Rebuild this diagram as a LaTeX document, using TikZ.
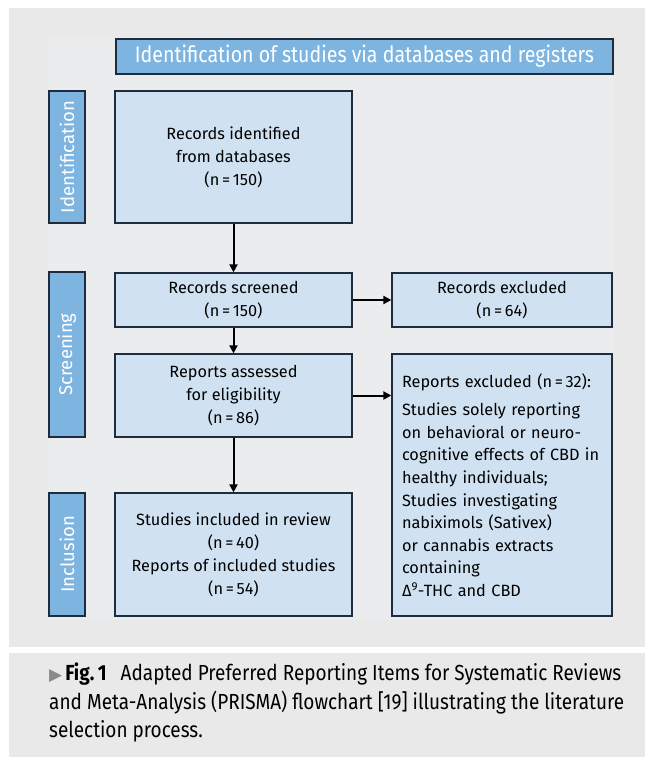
\documentclass[tikz,border=0pt]{standalone}
\usepackage{fontspec}
\setmainfont{Fira Sans}
\newfontfamily\cond[FakeStretch=0.87]{Fira Sans}
\newfontfamily\symf{DejaVu Sans}
\usetikzlibrary{arrows.meta}
\definecolor{bggray}{HTML}{E9E9E9}
\definecolor{innergray}{HTML}{EBECEE}
\definecolor{darkline}{HTML}{1E2C3E}
\definecolor{midblue}{HTML}{7EB5E0}
\definecolor{lightblue}{HTML}{D0E2F2}
\definecolor{trigray}{HTML}{8A8A8A}
\tikzset{
  boxnode/.style={draw=darkline, line width=1.3pt, fill=lightblue, align=center, inner sep=0pt,
    font=\fontsize{16.3}{23}\selectfont, text=black},
  hdrnode/.style={draw=darkline, line width=1.3pt, fill=midblue, text=white, inner sep=0pt},
  sidenode/.style={hdrnode, rotate=90, font=\fontsize{18.5}{20}\selectfont},
  arr/.style={line width=2pt, -{Triangle[length=8pt,width=8pt]}}
}
\begin{document}
\begin{tikzpicture}[x=1pt,y=-1pt]
\useasboundingbox (0,0) rectangle (645,757);
\fill[white] (0,0) rectangle (645,757);
\fill[bggray] (9,8) rectangle (645,647);
\fill[innergray] (48,37) rectangle (613,620);
\fill[bggray] (9,653) rectangle (645,757);

\node[hdrnode, minimum width=497pt, minimum height=35pt, font=\cond\fontsize{22.5}{24}\selectfont]
  (title) at (364.5,56.5) {Identification of studies via databases and registers};

\node[sidenode, minimum width=132pt, minimum height=36pt] (lab1) at (67,157) {Identification};
\node[sidenode, minimum width=165pt, minimum height=36pt] (lab2) at (67,354.5) {Screening};
\node[sidenode, minimum width=123pt, minimum height=36pt] (lab3) at (67,554.5) {Inclusion};

\node[boxnode, minimum width=237pt, minimum height=132pt] (ident) at (233.5,157)
  {Records identified\\from databases\\(n\,=\,150)};
\node[boxnode, minimum width=237pt, minimum height=54pt] (screened) at (233.5,300)
  {Records screened\\(n\,=\,150)};
\node[boxnode, minimum width=220pt, minimum height=54pt] (excl1) at (502,300)
  {Records excluded\\(n\,=\,64)};
\node[boxnode, minimum width=237pt, minimum height=83pt] (assessed) at (233.5,395.5)
  {Reports assessed\\for eligibility\\(n\,=\,86)};
\node[boxnode, minimum width=220pt, minimum height=262pt, align=left, text width=200pt,
  inner xsep=10pt, font=\fontsize{16.3}{22.6}\selectfont] (excl2) at (502,485)
  {Reports excluded (n\,=\,32):\\[6pt]
   Studies solely reporting\\
   on behavioral or neuro-\\
   cognitive effects of CBD in\\
   healthy individuals;\\
   Studies investigating\\
   nabiximols (Sativex)\\
   or cannabis extracts\\
   containing\\
   Δ\textsuperscript{9}-THC and CBD};
\node[boxnode, minimum width=237pt, minimum height=123pt] (included) at (233.5,554.5)
  {Studies included in review\\(n\,=\,40)\\Reports of included studies\\(n\,=\,54)};

\draw[arr] (ident.south) -- (screened.north);
\draw[arr] (screened.east) -- (excl1.west);
\draw[arr] (screened.south) -- (assessed.north);
\draw[arr] (assessed.east) -- (assessed.east -| excl2.west);
\draw[arr] (assessed.south) -- (included.north);

\node[anchor=north west, inner sep=0pt, align=left, font=\cond\fontsize{21.8}{28.5}\selectfont]
  (caption) at (49,663)
  {\raisebox{0.5pt}{\color{trigray}\symf\fontsize{17}{17}\selectfont ▶}\hspace{3pt}\textbf{Fig.\,1}\hspace{14pt}Adapted Preferred Reporting Items for Systematic Reviews\\
   and Meta-Analysis (PRISMA) flowchart [19] illustrating the literature\\
   selection process.};
\end{tikzpicture}
\end{document}
